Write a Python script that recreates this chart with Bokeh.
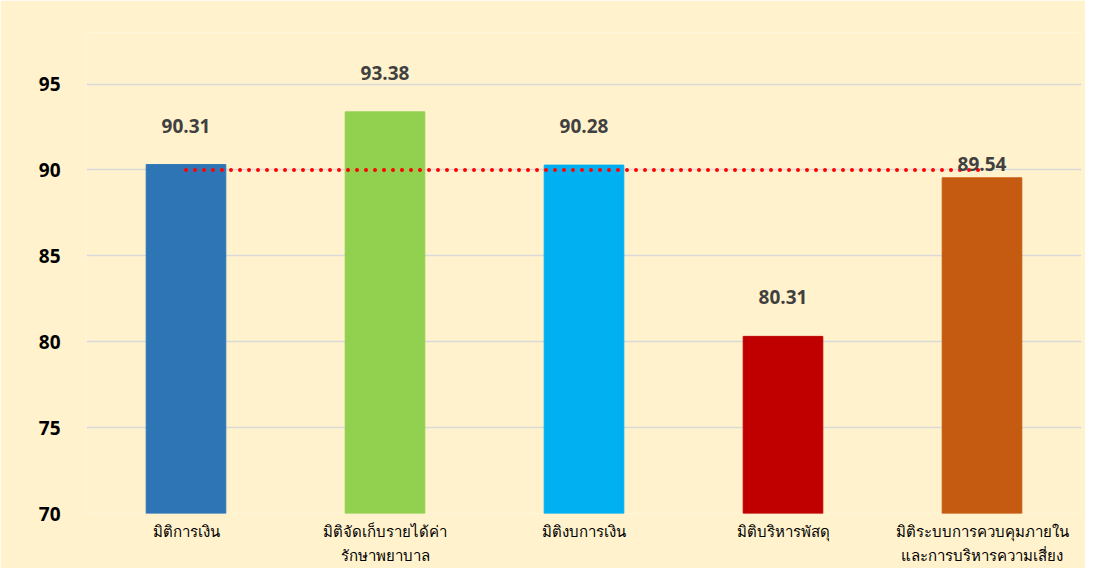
from bokeh.plotting import figure
from bokeh.models import ColumnDataSource, FixedTicker, LabelSet
from bokeh.core.properties import value
from bokeh.embed import file_html
from bokeh.resources import INLINE

categories = ["มิติการเงิน", "มิติจัดเก็บรายได้ค่า\nรักษาพยาบาล", "มิติงบการเงิน",
              "มิติบริหารพัสดุ", "มิติระบบการควบคุมภายใน\nและการบริหารความเสี่ยง"]
scores = [90.31, 93.38, 90.28, 80.31, 89.54]
target = [90, 90, 90, 90, 90]
y_ticks = [70, 75, 80, 85, 90, 95]

colors = ["#2E75B6", "#92D050", "#00B0F0", "#C00000", "#C55A11"]
label_offsets = [39, 39, 39, 39, 14]

src = ColumnDataSource(dict(cat=categories, val=scores, color=colors,
                            lab=[f"{v:.2f}" for v in scores], off=label_offsets))

p = figure(x_range=categories, y_range=(70, 98), width=1085, height=568,
           output_backend="svg", toolbar_location=None,
           min_border_left=86, min_border_right=4, min_border_top=32, min_border_bottom=55)
p.background_fill_color = "#FFF2CC"
p.border_fill_color = "#FFF2CC"
p.outline_line_color = None

p.vbar(x="cat", top="val", bottom=70, width=0.40, color="color", source=src)
p.line(x=categories, y=target, line_color="#FF0000", line_width=4,
       line_dash="0 9", line_cap="round")

labels = LabelSet(x="cat", y="val", text="lab", source=src, y_offset="off",
                  text_align="center", text_baseline="middle",
                  text_font=value("Open Sans"), text_font_style="bold",
                  text_font_size="19px", text_color="#404040")
p.add_layout(labels)

p.yaxis.ticker = FixedTicker(ticks=y_ticks)
p.ygrid.ticker = FixedTicker(ticks=y_ticks)
p.ygrid.grid_line_color = "#D9D9D9"
p.ygrid.grid_line_width = 1.5
p.xgrid.grid_line_color = None
p.yaxis.axis_line_color = None
p.yaxis.major_tick_line_color = None
p.yaxis.minor_tick_line_color = None
p.yaxis.major_label_text_font = "Open Sans"
p.yaxis.major_label_text_font_style = "bold"
p.yaxis.major_label_text_font_size = "19px"
p.yaxis.major_label_text_color = "#000000"
p.yaxis.major_label_standoff = 20

p.xaxis.axis_line_color = None
p.xaxis.major_tick_line_color = None
p.xaxis.major_label_text_font = "Noto Sans"
p.xaxis.major_label_text_font_size = "15px"
p.xaxis.major_label_text_color = "#000000"
p.xaxis.major_label_standoff = 1

open("out.html", "w").write(file_html(p, INLINE))
